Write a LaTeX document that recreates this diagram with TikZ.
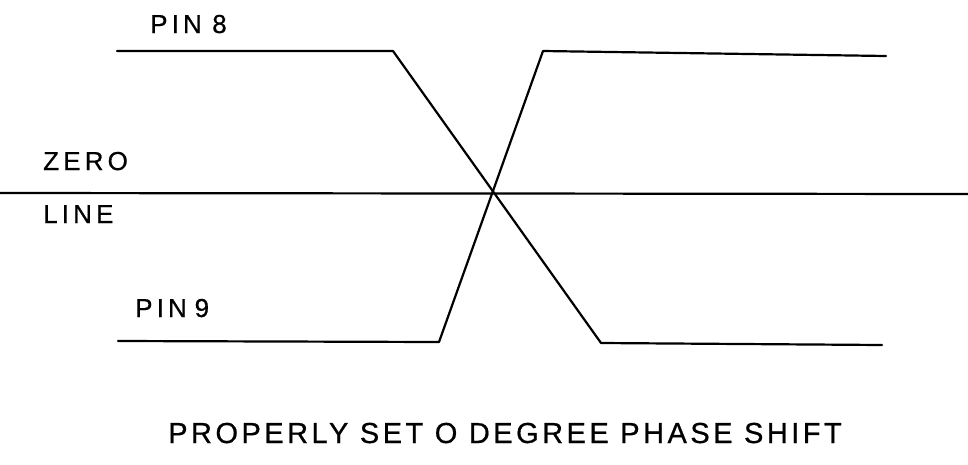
\documentclass[tikz,border=0pt]{standalone}
\usepackage{fontspec}
\newfontfamily\labfont[LetterSpace=16,FakeBold=0.6]{Liberation Sans}
\newfontfamily\capfont[LetterSpace=12,FakeBold=0.6]{Liberation Sans}
\begin{document}
\begin{tikzpicture}[x=1pt,y=-1pt,
  wave/.style={line width=2.2pt,line join=round,line cap=round},
  lab/.style={inner sep=0pt,anchor=base west,font=\labfont\fontsize{26}{26}\selectfont},
  captiontext/.style={inner sep=0pt,anchor=base,font=\capfont\fontsize{29}{29}\selectfont}]
\useasboundingbox (0,0) rectangle (968,464);
% zero line
\coordinate (zl) at (0,193);
\coordinate (zr) at (968,194);
\draw[wave] (zl) -- (zr);
% PIN 8 waveform
\coordinate (a1) at (117,51);
\coordinate (a2) at (393,51);
\coordinate (a3) at (601,343);
\coordinate (a4) at (882,345);
\draw[wave] (a1) -- (a2) -- (a3) -- (a4);
% PIN 9 waveform
\coordinate (b1) at (118,341);
\coordinate (b2) at (439,342);
\coordinate (b3) at (543,51);
\coordinate (b4) at (886,56);
\draw[wave] (b1) -- (b2) -- (b3) -- (b4);
% labels
\node[lab] (pin8) at (150,33) {PIN\hspace{0.4em}8};
\node[lab] (zero) at (43,170) {ZERO};
\node[lab] (line) at (43,223) {LINE};
\node[lab] (pin9) at (135,317) {PIN\hspace{0.3em}9};
\node[captiontext] (caption) at (505,443) {PROPERLY SET O DEGREE PHASE SHIFT};
\end{tikzpicture}
\end{document}
